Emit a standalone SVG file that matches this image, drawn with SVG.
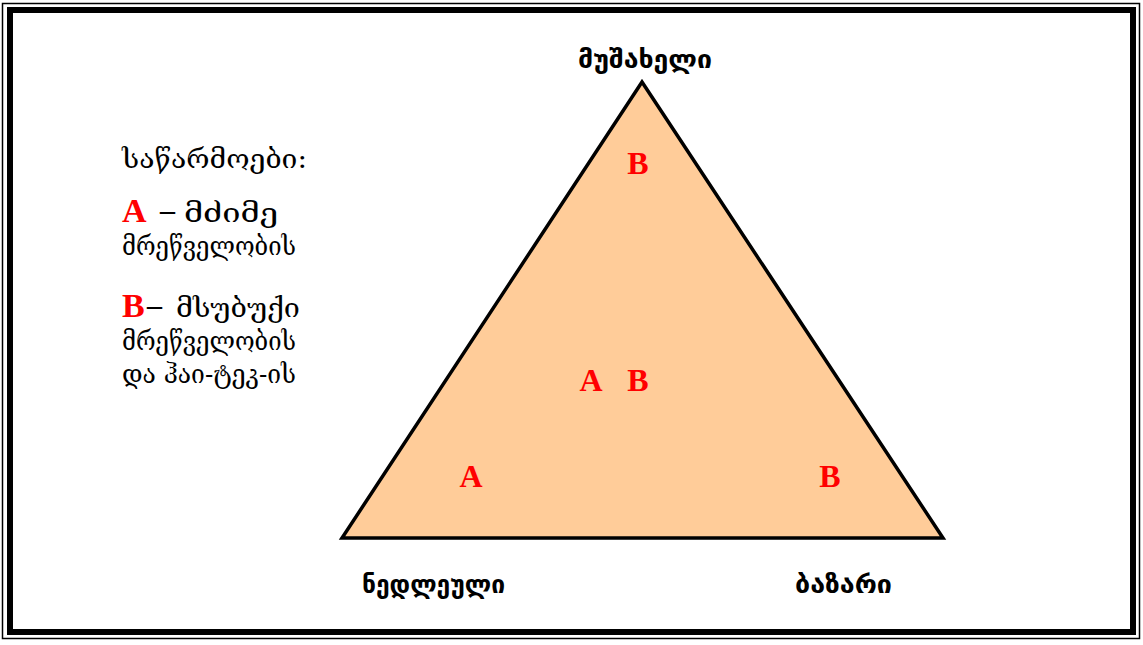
<svg xmlns="http://www.w3.org/2000/svg" width="1143" height="645" viewBox="0 0 1143 645">
<style>
.lbl{font-family:"DejaVu Sans",sans-serif;font-weight:bold;font-size:25px;fill:#000}
.ltr{font-family:"Liberation Serif",serif;font-weight:bold;font-size:32px;fill:#ff0000}
.leg{font-family:"DejaVu Serif","DejaVu Sans",serif;font-size:26px;fill:#000}
.dash{font-family:"Liberation Serif",serif;font-weight:bold;font-size:30px;fill:#000}
</style>
<rect x="0" y="0" width="1143" height="645" fill="#fff"/>
<g id="frame">
<rect x="2.5" y="3.5" width="1137" height="635" fill="none" stroke="#000" stroke-width="1.5"/>
<rect x="10" y="10" width="1123" height="622" fill="none" stroke="#000" stroke-width="6"/>
</g>
<g id="triangle">
<polygon points="642,82 342,538 943,538" fill="#ffcc99" stroke="#000" stroke-width="3.5" stroke-linejoin="miter"/>
</g>
<g id="label-top"><text class="lbl" x="578" y="68" textLength="134" lengthAdjust="spacingAndGlyphs">მუშახელი</text></g>
<g id="label-left"><text class="lbl" x="362" y="593" textLength="143" lengthAdjust="spacingAndGlyphs">ნედლეული</text></g>
<g id="label-right"><text class="lbl" x="795" y="593" textLength="97" lengthAdjust="spacingAndGlyphs">ბაზარი</text></g>
<g id="letters">
<text class="ltr" x="638" y="174" text-anchor="middle">B</text>
<text class="ltr" x="591" y="391" text-anchor="middle">A</text>
<text class="ltr" x="638" y="391" text-anchor="middle">B</text>
<text class="ltr" x="471" y="487" text-anchor="middle">A</text>
<text class="ltr" x="830" y="487" text-anchor="middle">B</text>
</g>
<g id="legend">
<text class="leg" x="122" y="168" textLength="185" lengthAdjust="spacingAndGlyphs">საწარმოები:</text>
<text class="ltr" x="122" y="222" style="font-size:34px">A</text>
<text class="dash" x="160" y="220">–</text>
<text class="leg" x="184" y="222" textLength="94" lengthAdjust="spacingAndGlyphs">მძიმე</text>
<text class="leg" x="122" y="255" textLength="174" lengthAdjust="spacingAndGlyphs">მრეწველობის</text>
<text class="ltr" x="122" y="317" style="font-size:34px">B</text>
<text class="dash" x="147" y="315">–</text>
<text class="leg" x="176" y="317" textLength="124" lengthAdjust="spacingAndGlyphs">მსუბუქი</text>
<text class="leg" x="122" y="350" textLength="174" lengthAdjust="spacingAndGlyphs">მრეწველობის</text>
<text class="leg" x="122" y="383" textLength="174" lengthAdjust="spacingAndGlyphs">და ჰაი-ტეკ-ის</text>
</g>
</svg>
